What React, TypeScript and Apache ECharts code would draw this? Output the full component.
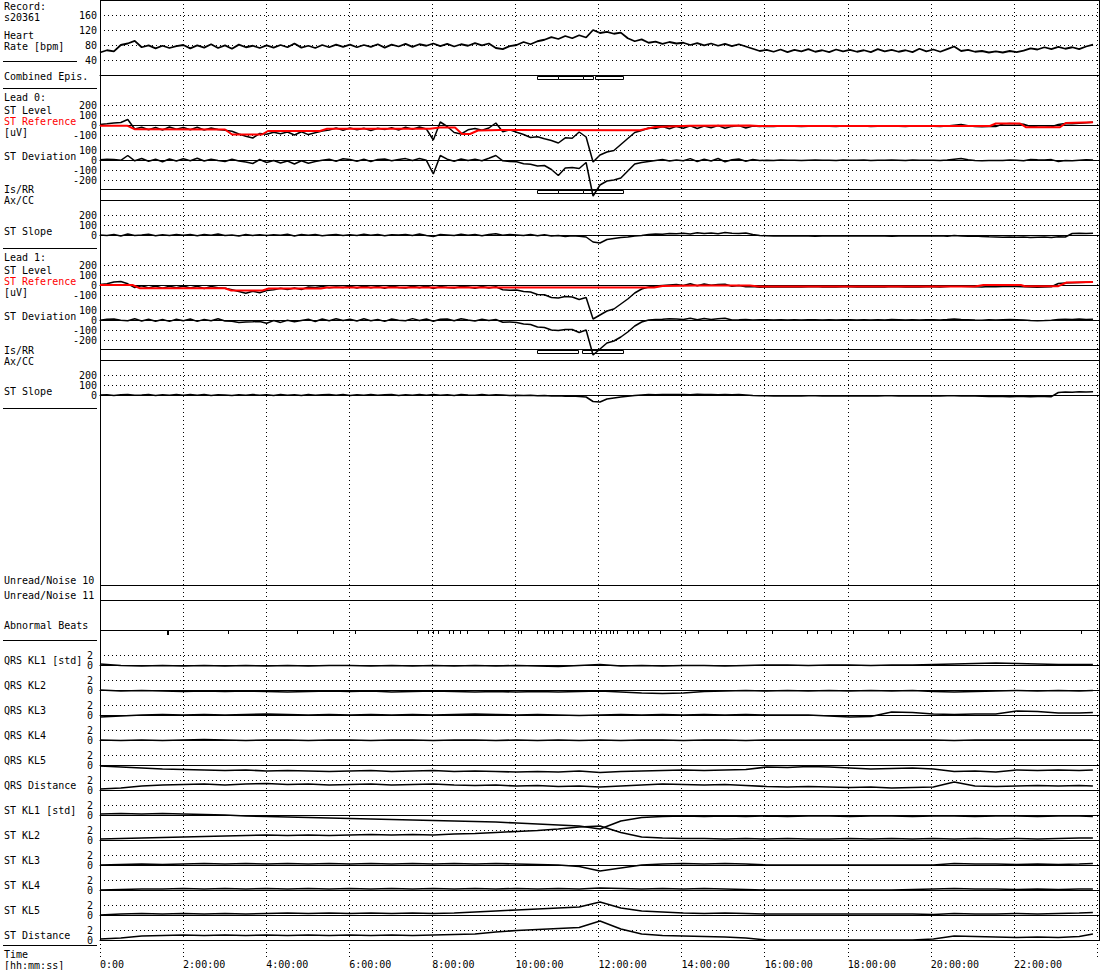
import React, { useEffect, useRef } from "react";
import * as echarts from "echarts";

const FONT = "'DejaVu Sans Mono', 'Liberation Mono', monospace";
const X_MAX = 24;
const STEP_H = 10 / 60; // 10-minute samples for the main traces

const HOUR_TICK_STEP = 2;

const HR = [
  60, 66, 63, 80, 84, 91, 74, 79, 71, 78, 72, 77,
  80, 71, 79, 73, 82, 72, 79, 70, 81, 74, 78, 72,
  79, 73, 80, 74, 84, 73, 78, 72, 80, 74, 81, 75,
  81, 74, 80, 75, 82, 73, 81, 76, 83, 75, 82, 78,
  84, 77, 83, 76, 82, 78, 85, 79, 84, 72, 69, 77,
  80, 88, 82, 90, 94, 101, 96, 104, 98, 106, 100, 120,
  112, 115, 110, 113, 98, 90, 95, 86, 89, 83, 88, 84,
  86, 80, 85, 79, 84, 78, 83, 77, 82, 76, 70, 64,
  67, 62, 68, 61, 67, 63, 69, 62, 66, 61, 68, 63,
  67, 62, 66, 61, 69, 63, 67, 62, 66, 61, 70, 63,
  68, 62, 69, 76, 64, 67, 62, 64, 60, 63, 60, 64,
  61, 65, 71, 68, 74, 69, 75, 70, 74, 69, 76, 81,
];

const L0_LEVEL = [
  5, 12, 20, 25, 55, -40, -22, -48, -25, -50, -20, -42,
  -25, -48, -22, -50, -30, -46, -52, -62, -90, -112, -130, -85,
  -92, -72, -88, -70, -100, -68, -96, -78, -60, -50, -30, -52,
  -30, -48, -32, -55, -32, -45, -28, -50, -22, -42, -20, -40,
  -150, 30, -15, -75, -90, -48, -35, -52, -30, 20, -68, -48,
  -72, -95, -125, -118, -138, -155, -180, -128, -132, -70, -120, -370,
  -300, -270, -255, -195, -135, -75, -55, -30, -35, -15, -38, -14,
  -32, -8, -35, -10, -28, -5, -33, -14, -6, -30, -10, -16,
  -12, -14, -11, -13, -12, -15, -12, -10, -13, -12, -14, -11,
  -12, -13, -11, -14, -12, -13, -10, -12, -14, -11, -13, -12,
  -12, -14, -10, -2, 5, -8, -15, -18, -14, -16, 10, 15,
  12, 8, -15, -20, -22, -18, 5, 15, 12, 18, 22, 28,
];

const L0_REF = [
  [0, -7], [0.65, -7], [0.84, -43], [3.0, -45], [3.17, -95], [3.89, -95], [4.03, -60],
  [5.28, -60], [5.45, -38], [7.92, -38], [8.16, -25], [8.52, -25], [8.69, -90], [8.88, -90],
  [9.07, -55], [9.6, -50], [12.96, -52], [13.32, -20], [14.16, -8], [15.6, -5], [15.8, -10],
  [21.36, -10], [21.5, 15], [22.08, 15], [22.22, -22], [23.04, -22], [23.18, 20], [23.83, 28],
];

const L0_DEV = [
  2, 8, 5, -3, 45, -8, 15, -12, 8, -18, 10, -10,
  12, -8, 18, -10, 8, -5, -15, 8, -10, -20, -35, 5,
  -25, -5, -30, -10, -40, -8, -32, -15, -2, 8, -12, 12,
  5, -12, 8, -15, 6, 10, -8, 5, 14, -5, 15, -3,
  -140, 45, 8, -12, 10, -4, 8, -8, 18, 45, -8, -14,
  -18, -38, -42, -60, -55, -95, -155, -80, -75, -85, -25, -360,
  -250, -210, -200, -180, -110, -40, -25, -15, -5, 5, -10, 0,
  -8, 14, -15, 8, -10, 15, -18, 3, 10, -12, 4, -5,
  -2, -4, -1, -3, -2, -5, -2, 0, -3, -2, -4, -1,
  -2, -3, -1, -4, -2, -3, 0, -2, -4, -1, -3, -2,
  -2, -4, 0, 8, 15, 2, -5, -8, -4, -6, -5, 0,
  -3, -7, 5, 2, 0, 4, -15, -5, -8, -2, 2, 0,
];

const L0_SLOPE = [
  0, -5, 5, -10, 10, -5, 0, 8, -8, 3, -6, 5,
  -3, 6, -8, 4, -2, 10, -5, 0, -10, 5, -4, 2,
  -6, 3, -2, 8, -10, 4, -3, 6, -8, 0, 5, -4,
  2, -6, 8, -3, 5, -8, 3, 0, 6, -4, 10, -5,
  -15, 5, 0, -6, 8, -3, 4, -7, 6, 12, -2, 5,
  0, -5, 6, -8, 3, -10, -5, -15, -8, -12, -20, -70,
  -80, -45, -35, -25, -20, -10, -5, 5, 10, 8, 15, 12,
  18, 10, 22, 15, 20, 12, 25, 18, 15, 20, 5, -5,
  -8, -10, -9, -11, -10, -8, -10, -12, -9, -10, -11, -9,
  -10, -9, -11, -10, -8, -10, -12, -9, -10, -11, -9, -10,
  -10, -8, -12, -5, -10, -12, -10, -15, -18, -20, -22, -20,
  -22, -20, -25, -22, -20, -24, -18, -20, 15, 18, 16, 18,
];

const L1_LEVEL = [
  5, 12, 30, 35, 12, -25, -8, -30, -10, -32, -12, -28,
  -10, -30, -12, -35, -15, -28, -32, -48, -65, -82, -62, -78,
  -55, -48, -32, -46, -30, -45, -20, -25, -16, -28, -20, -26,
  -12, -30, -10, -28, -14, -32, -10, -26, -30, -12, -28, -10,
  -35, -15, -24, -30, -16, -20, -32, -14, -30, -18, -48, -52,
  -50, -65, -70, -95, -98, -125, -130, -115, -120, -145, -125, -340,
  -300, -260, -240, -190, -140, -80, -40, -20, -10, -5, 0, 5,
  -4, 12, -8, 9, -2, 4, 8, -12, -6, -18, -15, -22,
  -18, -20, -17, -19, -18, -21, -18, -16, -19, -18, -20, -17,
  -18, -19, -17, -20, -18, -19, -16, -18, -20, -17, -19, -18,
  -18, -20, -16, -10, -12, -15, -18, -20, -16, -18, -14, -12,
  -15, -18, -20, -22, -20, -18, 15, 20, 22, 25, 28, 30,
];

const L1_REF = [
  [0, 0], [0.78, 0], [0.96, -33], [3.0, -33], [3.15, -55], [3.9, -55], [4.05, -35],
  [5.3, -35], [5.45, -25], [13.3, -25], [13.5, -10], [14.3, -5], [15.6, -5], [15.8, -15],
  [21.0, -15], [21.2, 0], [22.1, 0], [22.2, -12], [23.0, -12], [23.2, 25], [23.83, 30],
];

const L1_DEV = [
  -2, 8, 10, -2, -8, 12, -10, 8, -12, 5, -14, 8,
  -8, 10, -14, 6, -8, 12, -10, -12, -24, -20, -18, -14,
  -32, -6, -24, -2, -18, -5, 8, -15, 10, -8, 12, -6,
  8, -10, 12, -8, 5, -14, 10, -3, -8, 14, -5, 10,
  -12, 8, 10, -8, 12, 0, -10, 8, -6, 5, -22, -20,
  -25, -40, -45, -70, -75, -100, -105, -95, -95, -125, -100, -350,
  -290, -230, -210, -170, -120, -60, -20, 0, 5, 8, 12, 10,
  5, 18, 2, 14, 4, 12, 17, 0, 2, 5, 0, 2,
  2, 0, 3, 1, 2, -1, 2, 3, 1, 2, 0, 3,
  2, 1, 3, 0, 2, 1, 4, 2, 0, 3, 1, 2,
  2, 0, 4, 10, 6, 3, 0, -2, 2, 0, 3, 5,
  2, -1, -5, -8, -6, -3, 5, 8, 5, 10, 6, 8,
];

const L1_SLOPE = [
  0, 3, -5, 2, 5, -3, 0, 4, -4, 2, -2, 5,
  -3, 4, -2, 6, -4, 2, 0, -5, 3, -2, 5, -3,
  2, -4, 5, -2, 3, -5, 6, -3, 2, 4, -2, 5,
  -4, 3, -2, 6, -3, 2, 5, -4, 3, -2, 4, -3,
  5, -2, 3, -5, 4, 0, -3, 5, -2, 3, 0, -5,
  -3, -6, -2, -8, -5, -10, -8, -12, -10, -15, -20, -65,
  -70, -40, -30, -20, -12, -5, 0, 5, 3, 6, 4, 5,
  6, 3, 8, 4, 5, 2, 6, 3, 4, 0, -5, -8,
  -8, -9, -8, -10, -8, -9, -8, -7, -9, -8, -10, -8,
  -9, -8, -10, -8, -9, -8, -7, -9, -8, -10, -8, -9,
  -8, -9, -7, -8, -9, -8, -10, -12, -15, -16, -15, -17,
  -16, -15, -17, -16, -15, -17, 25, 30, 28, 32, 30, 33,
];

// Episodes: [start h, end h]
const EPIS_COMBINED = [[10.49, 10.99], [10.99, 11.59], [11.59, 11.83], [11.88, 12.55]];
const EPIS_L0 = [[10.49, 10.99], [10.99, 11.59], [11.59, 11.88], [11.88, 12.55]];
const EPIS_L1 = [[10.49, 11.47], [11.57, 12.55]];

// Abnormal beats: [h, size]
const BEATS = [
  [1.63, 2], [3.07, 1], [4.73, 1], [5.59, 1], [6.12, 1], [7.61, 1], [7.87, 1], [7.99, 1],
  [8.11, 1], [8.38, 1], [8.47, 1], [8.64, 1], [8.81, 1], [9.31, 1], [9.7, 1], [10.03, 1],
  [10.1, 1], [10.49, 1], [10.66, 1], [10.75, 1], [10.87, 1], [11.09, 1], [11.35, 1],
  [11.59, 1], [11.76, 1], [11.88, 1], [12.02, 1], [12.14, 1], [12.24, 1], [12.31, 1],
  [12.41, 1], [12.65, 1], [12.79, 1], [12.91, 1], [13.15, 1], [13.44, 1], [14.04, 1],
  [14.35, 1], [15.05, 1], [15.5, 1], [16.13, 1], [16.97, 1], [17.21, 1], [17.54, 1],
  [18.07, 1], [18.91, 1], [19.2, 1], [20.3, 1], [20.76, 1], [21.19, 1], [21.46, 1],
  [22.08, 1], [23.54, 1],
];

const KL_HOURS = [
  0, 0.5, 1, 1.5, 2, 2.5, 3, 3.5, 4, 4.5, 5, 5.5, 6, 6.5, 7, 7.5, 8, 8.5, 9, 9.5,
  10, 10.5, 11, 11.5, 12, 12.5, 13, 13.5, 14, 14.5, 15, 15.5, 16, 16.5, 17, 17.5,
  18, 18.5, 19, 19.5, 20, 20.5, 21, 21.5, 22, 22.5, 23, 23.5, 23.83,
];

const QRS_KL1 = [0.2, -0.1, -0.2, -0.1, -0.2, -0.1, -0.2, -0.1, -0.2, -0.1, -0.2, -0.1, -0.1, -0.2, -0.1, -0.2, -0.1, -0.2, -0.1, -0.2, -0.1, -0.2, -0.3, -0.1, 0.1, -0.2, -0.1, -0.2, -0.1, -0.1, -0.2, -0.1, 0, 0, -0.1, 0, 0, -0.1, 0, 0, 0.1, 0.2, 0.3, 0.4, 0.3, 0.2, 0.1, 0.1, 0.1];
const QRS_KL2 = [0, -0.2, -0.1, -0.2, -0.3, -0.2, -0.3, -0.2, -0.3, -0.4, -0.3, -0.2, -0.3, -0.2, -0.4, -0.3, -0.2, -0.3, -0.4, -0.3, -0.4, -0.3, -0.4, -0.3, -0.2, -0.4, -0.6, -0.7, -0.6, -0.3, -0.2, -0.1, -0.2, -0.1, -0.2, -0.1, -0.2, -0.1, -0.2, -0.1, -0.3, -0.4, -0.3, -0.2, -0.1, -0.2, -0.1, -0.2, -0.1];
const QRS_KL3 = [-0.4, -0.2, 0, 0.1, 0, 0.1, 0, 0.1, 0.2, 0.1, 0, 0.1, 0, 0.1, 0, 0.1, 0, 0.1, 0.2, 0.1, 0, 0.1, 0, -0.1, 0, 0.1, 0, 0.1, 0, 0.1, 0, 0.1, 0, 0, 0, -0.2, -0.4, -0.3, 0.6, 0.5, 0.2, 0.1, 0.2, 0.2, 0.8, 0.7, 0.4, 0.4, 0.5];
const QRS_KL4 = [0, -0.1, 0, -0.1, 0, 0.1, 0, -0.1, 0, 0, -0.1, 0, 0, -0.1, 0, 0, -0.1, 0, 0, -0.1, 0, -0.1, 0, -0.1, 0, -0.1, 0, 0, -0.1, 0, 0, -0.1, 0, 0, 0, 0, 0, 0, 0, 0, 0, -0.1, 0, 0, 0, 0, 0, 0, 0];
const QRS_KL5 = [-0.2, -0.4, -0.6, -0.8, -0.9, -1.0, -1.1, -1.0, -1.2, -1.1, -1.2, -1.3, -1.2, -1.1, -1.3, -1.2, -1.1, -1.3, -1.2, -1.3, -1.4, -1.3, -1.4, -1.2, -1.5, -1.3, -1.2, -1.1, -1.0, -1.1, -1.0, -0.9, -0.4, -0.5, -0.3, -0.4, -0.6, -0.8, -0.7, -0.6, -0.8, -1.3, -1.2, -1.4, -1.0, -1.1, -1.0, -1.1, -1.0];
const QRS_DIST = [0.2, 0.4, 0.8, 1.0, 1.1, 1.2, 1.0, 1.2, 1.3, 1.1, 1.2, 1.0, 1.1, 1.2, 1.0, 1.1, 1.2, 1.0, 0.9, 1.0, 0.8, 0.9, 0.7, 0.8, 0.6, 0.8, 1.0, 1.2, 1.1, 1.0, 1.1, 0.9, 0.7, 0.6, 0.7, 0.6, 0.5, 0.6, 0.4, 0.5, 0.6, 1.6, 0.8, 0.7, 0.8, 0.9, 0.8, 0.9, 0.8];
const ST_KL1 = [0.2, 0.3, 0.2, 0.3, 0.2, 0.1, 0, -0.2, -0.3, -0.4, -0.5, -0.6, -0.7, -0.8, -0.9, -1.0, -1.1, -1.2, -1.3, -1.4, -1.6, -1.8, -2.0, -2.2, -2.8, -1.2, -0.5, -0.3, -0.2, -0.3, -0.2, -0.3, -0.2, -0.3, -0.2, -0.2, -0.3, -0.2, -0.2, -0.3, -0.2, -0.2, -0.3, -0.2, -0.2, -0.3, -0.2, -0.2, -0.3];
const ST_KL2 = [0.2, 0.3, 0.4, 0.5, 0.6, 0.7, 0.8, 0.9, 1.0, 0.9, 1.0, 0.9, 1.0, 1.1, 1.0, 1.1, 1.0, 1.2, 1.3, 1.5, 1.7, 1.9, 2.2, 2.6, 2.8, 1.5, 0.6, 0.4, 0.3, 0.3, 0.2, 0.3, 0.2, 0.3, 0.2, 0.2, 0.3, 0.2, 0.3, 0.2, 0.3, 0.2, 0.3, 0.2, 0.3, 0.2, 0.3, 0.4, 0.4];
const ST_KL3 = [0, 0.1, 0.2, 0.1, 0.2, 0.3, 0.2, 0.3, 0.2, 0.3, 0.2, 0.3, 0.2, 0.3, 0.2, 0.3, 0.2, 0.3, 0.2, 0.3, 0.2, 0.1, 0, -0.3, -1.2, -0.6, 0, 0.2, 0.3, 0.2, 0.3, 0.2, 0, 0, 0, 0, 0, 0, 0, 0, 0, 0.3, 0.2, 0.2, 0.1, 0.2, 0.1, 0.2, 0.3];
const ST_KL4 = [0, 0.1, 0.2, 0.2, 0.3, 0.2, 0.3, 0.2, 0.3, 0.2, 0.3, 0.2, 0.3, 0.2, 0.3, 0.2, 0.3, 0.2, 0.3, 0.2, 0.3, 0.2, 0.3, 0.2, 0.4, 0.3, 0.2, 0.3, 0.2, 0.3, 0.2, 0.1, 0, 0, 0, 0, 0, 0, 0, 0.1, 0.2, 0.3, 0.2, 0.2, 0.1, 0.2, 0.1, 0.2, 0.2];
const ST_KL5 = [0, 0.2, 0.3, 0.2, 0.3, 0.2, 0.3, 0.2, 0.3, 0.4, 0.3, 0.4, 0.3, 0.4, 0.3, 0.4, 0.3, 0.4, 0.6, 0.8, 1.0, 1.2, 1.4, 1.6, 2.6, 1.4, 0.8, 0.6, 0.4, 0.3, 0.4, 0.3, 0.2, 0.2, 0.2, 0.2, 0.2, 0.2, 0.2, 0.2, 0.1, 0.3, 0.2, 0.2, 0.3, 0.2, 0.3, 0.4, 0.5];
const ST_DIST = [0.2, 0.4, 0.8, 0.9, 1.0, 0.9, 1.0, 0.9, 1.0, 0.9, 1.0, 0.9, 1.0, 0.9, 1.0, 0.9, 1.0, 1.1, 1.2, 1.6, 1.9, 2.1, 2.3, 2.5, 3.8, 2.2, 1.2, 0.9, 0.8, 0.7, 0.6, 0.4, 0, 0, 0, 0, 0, 0, 0, 0, 0.2, 0.8, 0.7, 0.6, 0.5, 0.6, 0.5, 0.7, 1.2];

const KL_SERIES = [QRS_KL1, QRS_KL2, QRS_KL3, QRS_KL4, QRS_KL5, QRS_DIST, ST_KL1, ST_KL2, ST_KL3, ST_KL4, ST_KL5, ST_DIST];
const KL_NAMES = ["QRS KL1 [std]", "QRS KL2", "QRS KL3", "QRS KL4", "QRS KL5", "QRS Distance", "ST KL1 [std]", "ST KL2", "ST KL3", "ST KL4", "ST KL5", "ST Distance"];

const LEFT_LABELS: [string, number, string][] = [
  ["Record:", 6, "#000"], ["s20361", 17, "#000"], ["Heart", 35, "#000"], ["Rate [bpm]", 46, "#000"],
  ["Combined Epis.", 76, "#000"],
  ["Lead 0:", 97, "#000"], ["ST Level", 110, "#000"], ["ST Reference", 121, "#ff0000"], ["[uV]", 132, "#000"],
  ["ST Deviation", 156, "#000"], ["Is/RR", 189, "#000"], ["Ax/CC", 200, "#000"], ["ST Slope", 231, "#000"],
  ["Lead 1:", 257, "#000"], ["ST Level", 270, "#000"], ["ST Reference", 281, "#ff0000"], ["[uV]", 292, "#000"],
  ["ST Deviation", 316, "#000"], ["Is/RR", 350, "#000"], ["Ax/CC", 361, "#000"], ["ST Slope", 391, "#000"],
  ["Unread/Noise 10", 580, "#000"], ["Unread/Noise 11", 595, "#000"], ["Abnormal Beats", 625, "#000"],
  ["Time", 954, "#000"], ["[hh:mm:ss]", 965, "#000"],
];

function fmtHour(v: number) {
  if (v === 0) return "0:00";
  if (v >= 24) return "";
  return `${v}:00:00`;
}

function buildOption() {
  const grid: any[] = [];
  const xAxis: any[] = [];
  const yAxis: any[] = [];
  const series: any[] = [];
  const dotted = { color: "#000", type: [1, 3], width: 1 };

  // background grid: vertical dotted hour lines + time labels
  grid.push({ left: 100, top: 0, width: 1000, height: 957, show: false });
  xAxis.push({
    gridIndex: 0, type: "value", min: 0, max: X_MAX, interval: HOUR_TICK_STEP,
    axisLine: { show: false }, axisTick: { show: false },
    splitLine: { show: true, lineStyle: dotted },
    axisLabel: { align: "left", margin: 2, fontFamily: FONT, fontSize: 10, color: "#000", formatter: fmtHour },
  });
  yAxis.push({ gridIndex: 0, type: "value", min: 0, max: 1, show: false });

  const panel = (top: number, height: number, min: number, max: number, interval: number, margin: number, fmt: (v: number) => string) => {
    const idx = grid.length;
    grid.push({ left: 100, top, width: 1000, height, show: false });
    xAxis.push({
      gridIndex: idx, type: "value", min: 0, max: X_MAX,
      axisLine: { show: true, onZero: true, lineStyle: { color: "#000", width: 1 } },
      axisTick: { show: false }, axisLabel: { show: false }, splitLine: { show: false },
    });
    yAxis.push({
      gridIndex: idx, type: "value", min, max, interval,
      axisLine: { show: false }, axisTick: { show: false },
      axisLabel: { margin, fontFamily: FONT, fontSize: 10, color: "#000", formatter: fmt },
      splitLine: { show: true, lineStyle: dotted },
    });
    return idx;
  };

  const hidden = (top: number, height: number) => {
    const idx = grid.length;
    grid.push({ left: 100, top, width: 1000, height, show: false });
    xAxis.push({ gridIndex: idx, type: "value", min: 0, max: X_MAX, show: false });
    yAxis.push({ gridIndex: idx, type: "value", min: 0, max: 1, show: false });
    return idx;
  };

  const line = (idx: number, data: any[], color = "#000", width = 1.5) => {
    series.push({
      type: "line", xAxisIndex: idx, yAxisIndex: idx, data, symbol: "none", showSymbol: false,
      clip: false, silent: true, lineStyle: { color, width },
    });
  };
  const timed = (vals: number[]) => vals.map((v, i) => [i * STEP_H, v]);

  const episodes = (idx: number, data: number[][]) => {
    series.push({
      type: "custom", xAxisIndex: idx, yAxisIndex: idx, data, silent: true, clip: false,
      renderItem: (_p: any, api: any) => {
        const a = api.coord([api.value(0), 1]);
        const b = api.coord([api.value(1), 0]);
        const x0 = Math.round(a[0]) + 0.5;
        const x1 = Math.round(b[0]) + 0.5;
        return {
          type: "rect",
          shape: { x: x0, y: Math.round(a[1]) + 0.5, width: x1 - x0, height: Math.round(b[1] - a[1]) },
          style: { fill: "#fff", stroke: "#000", lineWidth: 1 },
        };
      },
    });
  };

  // Heart rate
  const hr = panel(0, 75, 0, 200, 40, 3, (v) => (v === 0 || v === 200 ? "" : String(v)));
  line(hr, timed(HR), "#000", 1.8);

  // combined episodes
  episodes(hidden(76, 3), EPIS_COMBINED);

  const lead = (off: number, level: number[], ref: number[][], dev: number[], slope: number[], epis: number[][]) => {
    const lv = panel(105 + off, 30, -100, 200, 100, 3, (v) => String(v));
    line(lv, timed(level));
    line(lv, ref, "#ff0000", 2);
    const dv = panel(150 + off, 30, -200, 100, 100, 3, (v) => String(v));
    line(dv, timed(dev));
    episodes(hidden(190 + off, 3), epis);
    const sl = panel(215 + off, 20, 0, 200, 100, 3, (v) => String(v));
    line(sl, timed(slope));
  };
  lead(0, L0_LEVEL, L0_REF, L0_DEV, L0_SLOPE, EPIS_L0);
  lead(160, L1_LEVEL, L1_REF, L1_DEV, L1_SLOPE, EPIS_L1);

  // abnormal beats
  const ab = hidden(631, 4);
  series.push({
    type: "custom", xAxisIndex: ab, yAxisIndex: ab, data: BEATS, silent: true, clip: false,
    renderItem: (_p: any, api: any) => {
      const big = api.value(1) > 1;
      const p0 = api.coord([api.value(0), 1]);
      const p1 = api.coord([api.value(0), big ? 0 : 0.25]);
      const x = Math.round(p0[0]) + (big ? 0 : 0.5);
      return {
        type: "line",
        shape: { x1: x, y1: p0[1], x2: x, y2: p1[1] },
        style: { stroke: "#000", lineWidth: big ? 2 : 1 },
      };
    },
  });

  // KL panels
  KL_SERIES.forEach((vals, k) => {
    const y0 = 665 + 25 * k;
    const idx = panel(y0 - 10, 10, 0, 2, 2, 7, (v) => String(v));
    line(idx, vals.map((v, i) => [KL_HOURS[i], v]), "#000", 1.6);
  });

  // static frame elements
  const elements: any[] = [];
  const hl = (x1: number, x2: number, y: number) =>
    elements.push({ type: "line", silent: true, shape: { x1, y1: y, x2, y2: y }, style: { stroke: "#000", lineWidth: 1 } });
  const vl = (x: number, y1: number, y2: number) =>
    elements.push({ type: "line", silent: true, shape: { x1: x, y1, x2: x, y2 }, style: { stroke: "#000", lineWidth: 1 } });

  hl(100, 1100, 0.5);
  vl(100.5, 0, 940.5);
  vl(1099.5, 0, 940.5);
  [189.5, 200.5, 349.5, 360.5, 585.5, 600.5, 630.5].forEach((y) => hl(100, 1100, y));
  hl(3, 77, 61.5);
  [88.5, 248.5, 408.5, 640.5, 945.5].forEach((y) => hl(3, 97, y));

  LEFT_LABELS.forEach(([text, y, color]) => {
    elements.push({
      type: "text", silent: true, x: 4, y,
      style: { text, fill: color, font: `10px ${FONT}`, verticalAlign: "middle", align: "left" },
    });
  });
  KL_NAMES.forEach((text, k) => {
    elements.push({
      type: "text", silent: true, x: 4, y: 660 + 25 * k,
      style: { text, fill: "#000", font: `10px ${FONT}`, verticalAlign: "middle", align: "left" },
    });
  });

  return {
    animation: false,
    backgroundColor: "#fff",
    grid, xAxis, yAxis, series,
    graphic: { elements },
  };
}

export default function App() {
  const ref = useRef<HTMLDivElement>(null);
  useEffect(() => {
    if (!ref.current) return;
    const chart = echarts.init(ref.current, undefined, { renderer: "svg" });
    chart.setOption(buildOption() as any);
    return () => chart.dispose();
  }, []);
  return (
    <div
      ref={ref}
      style={{ position: "absolute", left: 0, top: 0, width: 1100, height: 970, background: "#fff" }}
    />
  );
}
